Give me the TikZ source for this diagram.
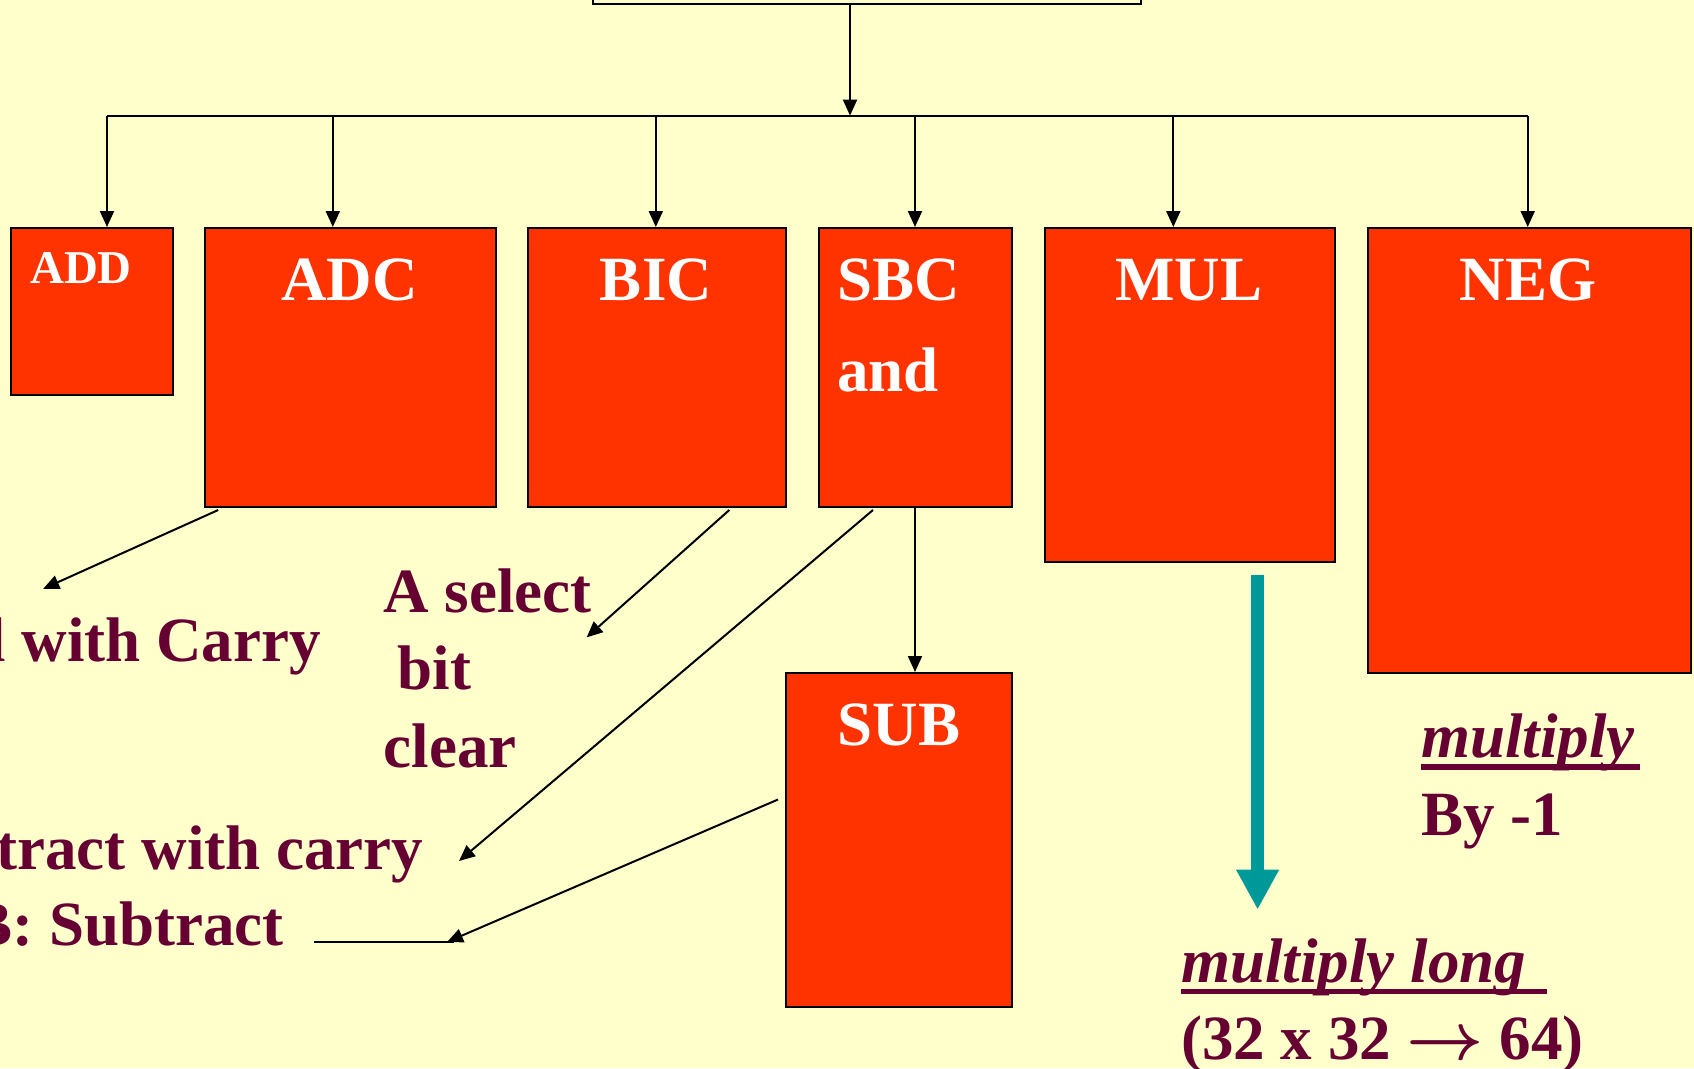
\documentclass[tikz,border=0pt]{standalone}
\usepackage{fontspec}
\setmainfont{Liberation Serif}
\usetikzlibrary{arrows.meta}
\definecolor{paper}{HTML}{FFFFCC}
\definecolor{boxred}{HTML}{FF3300}
\definecolor{ink}{HTML}{660033}
\definecolor{tealarrow}{HTML}{009999}
% a text-sized arrow: the bold math arrow at its largest design size, scaled up
\newcommand{\bigto}{\scalebox{2.7}{\boldmath$\rightarrow$}}
\begin{document}
\begin{tikzpicture}[x=1pt,y=-1pt,
  opbox/.style={draw=black, line width=2pt, fill=boxred, inner sep=0pt, anchor=north west},
  optext/.style={text=white, font=\fontsize{63}{63}\selectfont\bfseries, inner sep=0pt, anchor=base},
  note/.style={text=ink, font=\fontsize{63}{63}\selectfont\bfseries, inner sep=0pt},
  inote/.style={text=ink, font=\fontsize{63}{63}\selectfont\bfseries\itshape, inner sep=0pt},
  conn/.style={line width=2pt, draw=black},
  arr/.style={conn, -{Triangle[length=16pt,width=14pt]}},
  uline/.style={draw=ink, line width=5.5pt},
]
% page and background
\useasboundingbox (0,0) rectangle (1694,1068);
\fill[paper] (0,0) rectangle (1694,1068);
\clip (0,0) rectangle (1694,1068);

% top box, mostly above the page
\node[draw=black, line width=2pt, fill=paper, inner sep=0pt, anchor=south west,
      minimum width=548pt, minimum height=120pt] (top) at (592,5) {};

% operation boxes
\node[opbox, minimum width=162.1pt, minimum height=167.3pt] (ADD) at (9.7,227) {};
\node[opbox, minimum width=290.6pt, minimum height=278.6pt] (ADC) at (204.2,227) {};
\node[opbox, minimum width=258.2pt, minimum height=278.6pt] (BIC) at (527.2,227) {};
\node[opbox, minimum width=193.4pt, minimum height=278.6pt] (SBC) at (817.8,227) {};
\node[opbox, minimum width=290.7pt, minimum height=333.7pt] (MUL) at (1043.6,227) {};
\node[opbox, minimum width=323pt, minimum height=445pt] (NEG) at (1366.7,227) {};
\node[opbox, minimum width=225.8pt, minimum height=333.8pt] (SUB) at (785.4,672) {};

% box titles
\node[optext, font=\fontsize{47}{47}\selectfont\bfseries] (tADD) at (81,283) {ADD};
\node[optext] (tADC) at (349.5,300) {ADC};
\node[optext] (tBIC) at (656,300) {BIC};
\node[optext, anchor=base west] (tSBC) at (837,300) {SBC};
\node[optext, anchor=base west] (tand) at (837,391) {and};
\node[optext] (tMUL) at (1189,300) {MUL};
\node[optext] (tNEG) at (1528,300) {NEG};
\node[optext] (tSUB) at (899,745) {SUB};

% tree: stem and bus
\coordinate (stem) at (850,5);
\coordinate (busL) at (107,115.6);
\coordinate (busR) at (1527.7,115.6);
\coordinate (b1) at (107,115.6);
\coordinate (b2) at (332.8,115.6);
\coordinate (b3) at (655.8,115.6);
\coordinate (b4) at (915,115.6);
\coordinate (b5) at (1173.3,115.6);
\coordinate (b6) at (1527.7,115.6);
\draw[arr] (stem) -- (stem |- busL);
\draw[conn] (busL) -- (busR);
\draw[arr] (b1) -- (b1 |- ADD.north);
\draw[arr] (b2) -- (b2 |- ADC.north);
\draw[arr] (b3) -- (b3 |- BIC.north);
\draw[arr] (b4) -- (b4 |- SBC.north);
\draw[arr] (b5) -- (b5 |- MUL.north);
\draw[arr] (b6) -- (b6 |- NEG.north);

% SBC leads to SUB
\draw[arr] (b4 |- SBC.south) -- (b4 |- SUB.north);

% explanatory notes
\node[note, anchor=base east] (nADC) at (321,661) {Add with Carry};
\node[note, anchor=base west] (nBIC1) at (383.5,612.6) {A select};
\node[note, anchor=base west] (nBIC2) at (397.6,689) {bit};
\node[note, anchor=base west] (nBIC3) at (383.5,767) {clear};
\node[note, anchor=base east] (nSBC) at (423.5,869.7) {SBC: Subtract with carry};
\node[note, anchor=base east] (nSUB) at (284,945) {SUB: Subtract};

% pointers from boxes to notes
\coordinate (oADC) at (218.2,510);
\coordinate (eADC) at (43.2,588.8);
\coordinate (oBIC) at (729.3,510);
\coordinate (eBIC) at (586.6,637.4);
\coordinate (oSBC) at (873,510);
\coordinate (eSBC) at (459,861);
\coordinate (oSUB) at (778,799.5);
\coordinate (eSUB) at (447,942);
\coordinate (lineL) at (314,942);
\coordinate (lineR) at (454,942);
\draw[arr] (oADC) -- (eADC);
\draw[arr] (oBIC) -- (eBIC);
\draw[arr] (oSBC) -- (eSBC);
\draw[arr] (oSUB) -- (eSUB);
\draw[conn] (lineL) -- (lineR);

% NEG note
\node[inote, anchor=base west] (nNEG1) at (1421,757) {multiply};
\node[note, anchor=base west] (nNEG2) at (1421,835) {By -1};
\draw[uline] (1421,767) -- (1640,767);

% MUL note and its arrow
\coordinate (mulA) at (1257.6,574.8);
\coordinate (mulB) at (1257.6,909.7);
\draw[draw=tealarrow, line width=13pt, -{Triangle[length=40pt,width=40pt]}] (mulA) -- (mulB);
\node[inote, anchor=base west] (nMUL1) at (1181,982) {multiply long};
\node[note, anchor=base west] (nMUL2) at (1181,1059) {(32 x 32 \bigto{} 64)};
\draw[uline] (1181,991.7) -- (1547,991.7);
\end{tikzpicture}
\end{document}
